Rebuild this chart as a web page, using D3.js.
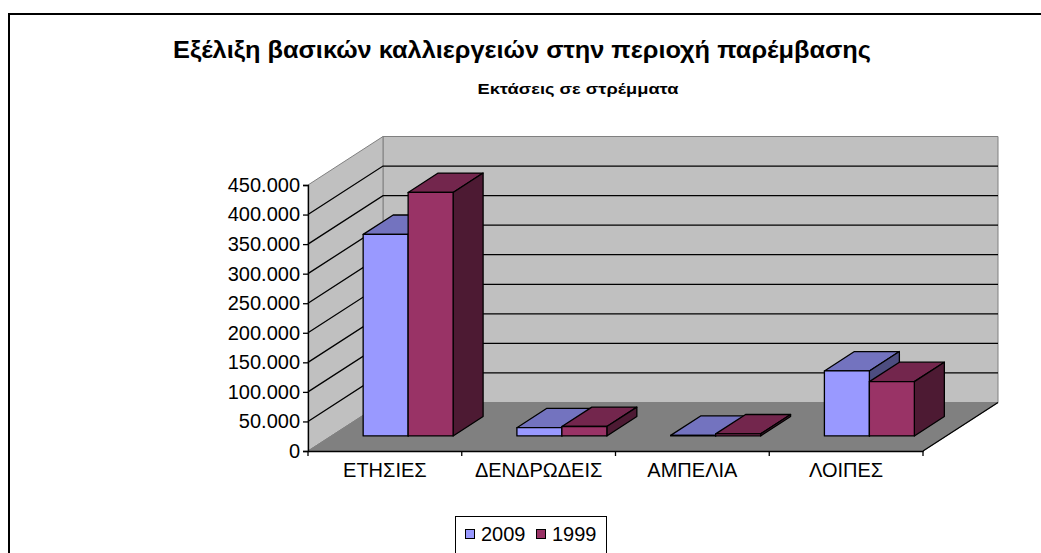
<!DOCTYPE html>
<html>
<head>
<meta charset="utf-8">
<script src="https://cdn.jsdelivr.net/npm/d3@7"></script>
<style>
  body { margin: 0; background: #fff; }
  svg text { font-family: "Liberation Sans", Arial, sans-serif; fill: #000; }
</style>
</head>
<body>
<svg id="chart" width="1041" height="553"></svg>
<script>
// data
let categories = ["ΕΤΗΣΙΕΣ", "ΔΕΝΔΡΩΔΕΙΣ", "ΑΜΠΕΛΙΑ", "ΛΟΙΠΕΣ"];
let series = ["2009", "1999"];
let values2009 = [341000, 14000, 1000, 110000];
let values1999 = [412000, 16000, 3500, 92000];
let yTicks = [0, 50000, 100000, 150000, 200000, 250000, 300000, 350000, 400000, 450000];

let colors = {
  "2009": { front: "#9999ff", top: "#7373bf", side: "#4d4d80" },
  "1999": { front: "#993366", top: "#73264d", side: "#4d1a33" }
};

let svg = d3.select("svg#chart");

// plot frame (front plane) and depth offset
let plotLeft = 308, plotRight = 923, plotBase = 451, plotTop = 185;
let depth = { dx: 75, dy: -48.5 };
let barZ0 = 0.31, barZ1 = 0.71;

let x = d3.scaleBand().domain(categories).range([plotLeft, plotRight]);
let x0 = d3.scaleBand().domain(categories).range([plotLeft, plotRight])
           .paddingInner(0.415).paddingOuter(0.2075);
let x1 = d3.scaleBand().domain(series).range([0, x0.bandwidth()]);
let y = d3.scaleLinear().domain([0, 450000]).range([plotBase, plotTop]);

function pt(px, py, z) { return [px + z * depth.dx, py + z * depth.dy]; }
function poly(points) { return points.map(function(p) { return p.join(","); }).join(" "); }

// outer chart frame
svg.append("rect")
  .attr("x", 9).attr("y", 14).attr("width", 1100).attr("height", 600)
  .attr("fill", "none").attr("stroke", "#000").attr("stroke-width", 2);

// titles (the original is a bit stretched sideways)
svg.append("text")
  .attr("x", 522).attr("y", 58)
  .attr("text-anchor", "middle")
  .attr("textLength", 698).attr("lengthAdjust", "spacingAndGlyphs")
  .style("font-size", "23px").style("font-weight", "bold")
  .text("Εξέλιξη βασικών καλλιεργειών στην περιοχή παρέμβασης");

svg.append("text")
  .attr("x", 578).attr("y", 94)
  .attr("text-anchor", "middle")
  .attr("textLength", 201).attr("lengthAdjust", "spacingAndGlyphs")
  .style("font-size", "15px").style("font-weight", "bold")
  .text("Εκτάσεις σε στρέμματα");

let walls = svg.append("g").attr("class", "walls");

// back wall
walls.append("polygon")
  .attr("points", poly([pt(plotLeft, plotTop, 1), pt(plotRight, plotTop, 1), pt(plotRight, plotBase, 1), pt(plotLeft, plotBase, 1)]))
  .attr("fill", "#c0c0c0").attr("stroke", "#808080").attr("stroke-width", 1);

// left wall
walls.append("polygon")
  .attr("points", poly([pt(plotLeft, plotTop, 0), pt(plotLeft, plotTop, 1), pt(plotLeft, plotBase, 1), pt(plotLeft, plotBase, 0)]))
  .attr("fill", "#c0c0c0").attr("stroke", "#808080").attr("stroke-width", 1);

// floor
walls.append("polygon")
  .attr("points", poly([pt(plotLeft, plotBase, 0), pt(plotLeft, plotBase, 1), pt(plotRight, plotBase, 1), pt(plotRight, plotBase, 0)]))
  .attr("fill", "#808080").attr("stroke", "#808080").attr("stroke-width", 1);

// gridlines on left wall and back wall
let grid = walls.selectAll("polyline.grid")
  .data(yTicks.filter(function(d) { return d > 0 && d < 450000; }));

grid.enter().append("polyline")
  .attr("class", "grid")
  .attr("points", function(d) { return poly([pt(plotLeft, y(d), 0), pt(plotLeft, y(d), 1), pt(plotRight, y(d), 1)]); })
  .attr("fill", "none").attr("stroke", "#000").attr("stroke-width", 1.3);

// floor right edge
walls.append("line")
  .attr("x1", plotRight).attr("y1", plotBase)
  .attr("x2", pt(plotRight, plotBase, 1)[0]).attr("y2", pt(plotRight, plotBase, 1)[1])
  .attr("stroke", "#000").attr("stroke-width", 1.3);

// y axis
let yAxis = svg.append("g")
  .attr("class", "axis axis--y")
  .attr("transform", "translate(" + plotLeft + ",0)")
  .call(d3.axisLeft(y).tickValues(yTicks).tickSize(5).tickPadding(3)
          .tickFormat(function(d) { return d === 0 ? "0" : d3.format(",")(d).replace(/,/g, "."); }));
yAxis.select(".domain").attr("stroke", "#000").attr("stroke-width", 1.3);
yAxis.selectAll(".tick line").attr("stroke", "#000").attr("stroke-width", 1.3);
yAxis.selectAll("text").style("font-size", "20px").style("font-family", "Liberation Sans, Arial, sans-serif").attr("fill", "#000");

// x axis
let xAxis = svg.append("g")
  .attr("class", "axis axis--x")
  .attr("transform", "translate(0," + plotBase + ")")
  .call(d3.axisBottom(x).tickSize(0).tickPadding(12));
xAxis.select(".domain").attr("stroke", "#000").attr("stroke-width", 1.3);
xAxis.selectAll("text").style("font-size", "20px").style("font-family", "Liberation Sans, Arial, sans-serif").attr("fill", "#000");

let bounds = categories.map(function(c) { return x(c); }).concat([plotRight]);
xAxis.selectAll("line.cat")
  .data(bounds)
  .enter().append("line")
  .attr("class", "cat")
  .attr("x1", function(d) { return d; }).attr("x2", function(d) { return d; })
  .attr("y1", 0).attr("y2", 5)
  .attr("stroke", "#000").attr("stroke-width", 1.3);

// bars, drawn left to right so nearer faces cover the hidden sides
let bars = [];
categories.forEach(function(c, i) {
  bars.push({ cat: c, key: "2009", value: values2009[i] });
  bars.push({ cat: c, key: "1999", value: values1999[i] });
});

let barG = svg.append("g").attr("class", "bars");

bars.forEach(function(d) {
  let bx0 = x0(d.cat) + x1(d.key);
  let bx1 = bx0 + x1.bandwidth();
  let by0 = y(0), by1 = y(d.value);
  let g = barG.append("g");
  let col = colors[d.key];

  g.append("polygon")
    .attr("points", poly([pt(bx0, by1, barZ0), pt(bx0, by1, barZ1), pt(bx1, by1, barZ1), pt(bx1, by1, barZ0)]))
    .attr("fill", col.top).attr("stroke", "#000").attr("stroke-width", 1.3).attr("stroke-linejoin", "round");

  g.append("polygon")
    .attr("points", poly([pt(bx1, by1, barZ0), pt(bx1, by1, barZ1), pt(bx1, by0, barZ1), pt(bx1, by0, barZ0)]))
    .attr("fill", col.side).attr("stroke", "#000").attr("stroke-width", 1.3).attr("stroke-linejoin", "round");

  g.append("polygon")
    .attr("points", poly([pt(bx0, by1, barZ0), pt(bx1, by1, barZ0), pt(bx1, by0, barZ0), pt(bx0, by0, barZ0)]))
    .attr("fill", col.front).attr("stroke", "#000").attr("stroke-width", 1.3).attr("stroke-linejoin", "round");
});

// legend
let legend = svg.append("g").attr("class", "legend");
legend.append("rect")
  .attr("x", 455.5).attr("y", 516.5).attr("width", 151).attr("height", 50)
  .attr("fill", "#fff").attr("stroke", "#000").attr("stroke-width", 1);

let legendX = [465, 536];
legend.selectAll("rect.swatch")
  .data(series)
  .enter().append("rect")
  .attr("class", "swatch")
  .attr("x", function(d, i) { return legendX[i] + 0.5; })
  .attr("y", 529.5)
  .attr("width", 9).attr("height", 9)
  .attr("fill", function(d) { return colors[d].front; })
  .attr("stroke", "#000").attr("stroke-width", 1);

legend.selectAll("text")
  .data(series)
  .enter().append("text")
  .attr("x", function(d, i) { return legendX[i] + 16; })
  .attr("y", 541)
  .style("font-size", "20px")
  .text(function(d) { return d; });
</script>
</body>
</html>
